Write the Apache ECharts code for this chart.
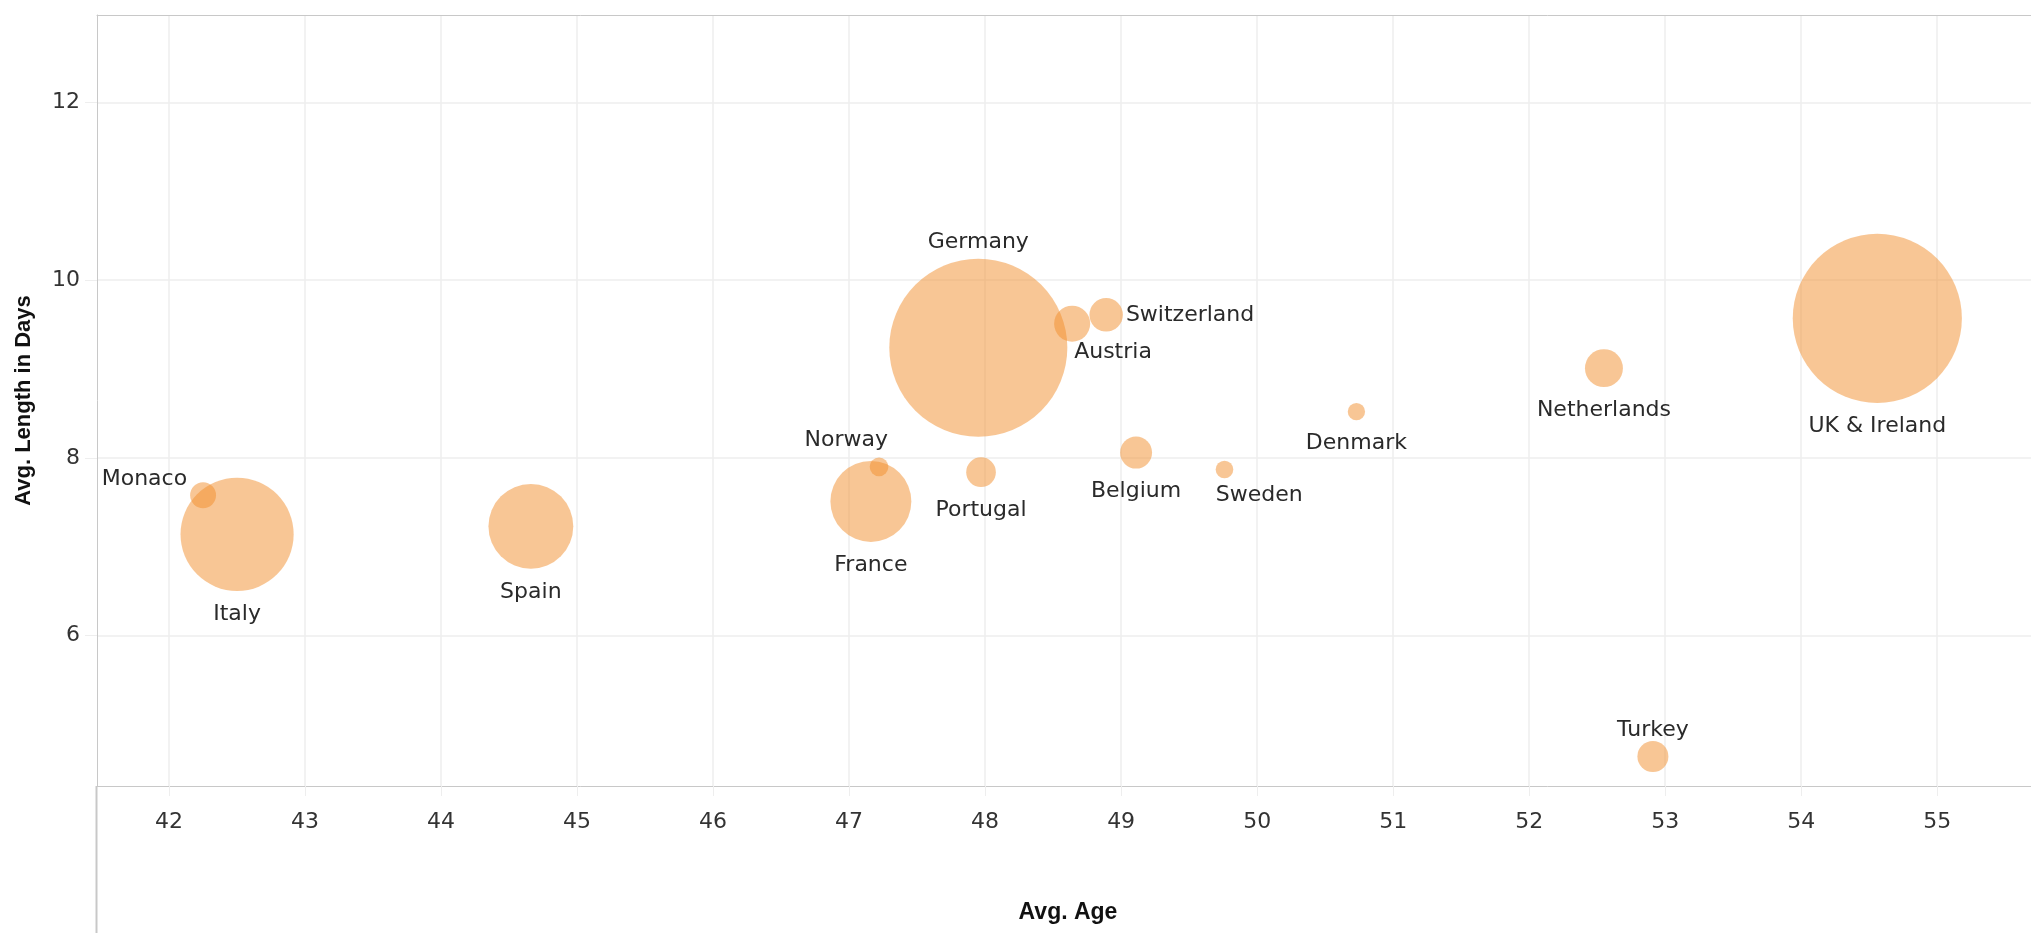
<!DOCTYPE html>
<html>
<head>
<meta charset="utf-8">
<script src="https://cdn.jsdelivr.net/npm/echarts@6/dist/echarts.min.js"></script>
<style>
html,body{margin:0;padding:0;background:#fff;}
#chart{width:2031px;height:933px;}
</style>
</head>
<body>
<div id="chart"></div>
<script>
// ---- data ----
const countries = ['Monaco','Italy','Spain','France','Norway','Germany','Portugal','Austria','Switzerland','Belgium','Sweden','Denmark','Netherlands','Turkey','UK & Ireland'];
const avgAge    = [42.25, 42.50, 44.66, 47.16, 47.22, 47.95, 47.97, 48.64, 48.89, 49.11, 49.76, 50.73, 52.55, 52.91, 54.56];
const avgDays   = [7.58, 7.14, 7.23, 7.51, 7.90, 9.24, 7.84, 9.51, 9.61, 8.06, 7.87, 8.52, 9.01, 4.64, 9.57];
const bookings  = [67, 1280, 720, 655, 35, 3170, 88, 130, 112, 102, 31, 30, 144, 96, 2860];
const xTicks = [42,43,44,45,46,47,48,49,50,51,52,53,54,55];
const yTicks = [6,8,10,12];

const sizeOf = (n) => Math.sqrt(n * 10);

// ---- label placement (style, not data); s = bubble diameter ----
const labelPlacement = {
  'Germany':     (s) => ({position:'top', distance:5}),
  'Turkey':      (s) => ({position:'top', distance:0}),
  'Switzerland': (s) => ({position:'right', distance:3}),
  'Austria':     (s) => ({position:[s/2 + 2, s], align:'left', verticalAlign:'top'}),
  'Norway':      (s) => ({position:[s/2 + 9, -6], align:'right', verticalAlign:'bottom'}),
  'Monaco':      (s) => ({position:[-3, s/2 - 16], align:'right', verticalAlign:'middle'}),
  'Sweden':      (s) => ({position:[0, s + 6], align:'left', verticalAlign:'top'})
};

const seriesData = countries.map((c,i) => {
  const item = {name:c, value:[avgAge[i], avgDays[i], bookings[i]]};
  if (labelPlacement[c]) item.label = labelPlacement[c](sizeOf(bookings[i]));
  return item;
});

const FONT = 'DejaVu Sans';
const chart = echarts.init(document.getElementById('chart'));
chart.setOption({
  animation:false,
  backgroundColor:'#fff',
  grid:{left:97, top:15, right:0, bottom:147, containLabel:false},
  xAxis:[{
    type:'value', min:41.47, max:55.69, position:'bottom',
    name:'Avg. Age', nameLocation:'middle', nameGap:115,
    nameTextStyle:{fontFamily:'Liberation Sans', fontWeight:'bold', fontSize:23, color:'#111', padding:[0,0,0,8]},
    axisLine:{show:true, lineStyle:{color:'#c8c8c8', width:1}},
    axisTick:{show:true, length:10, customValues:xTicks, lineStyle:{color:'#eeeeee'}},
    axisLabel:{customValues:xTicks, margin:25, fontFamily:FONT, fontSize:22, color:'#333'},
    splitLine:{show:true, lineStyle:{color:'#eeeeee', width:1.5}}
  },{
    type:'value', min:41.47, max:55.69, position:'top',
    axisLine:{show:true, lineStyle:{color:'#c8c8c8', width:1}},
    axisTick:{show:false}, axisLabel:{show:false}, splitLine:{show:false}
  }],
  yAxis:{
    type:'value', min:4.309, max:12.983,
    name:'Avg. Length in Days', nameLocation:'middle', nameGap:62, nameRotate:90,
    nameTextStyle:{fontFamily:'Liberation Sans', fontWeight:'bold', fontSize:22, color:'#111'},
    axisLine:{show:true, lineStyle:{color:'#c8c8c8', width:1}},
    axisTick:{show:true, length:12, customValues:yTicks, lineStyle:{color:'#eeeeee'}},
    axisLabel:{customValues:yTicks, margin:17, fontFamily:FONT, fontSize:22, color:'#333'},
    splitLine:{show:true, lineStyle:{color:'#eeeeee', width:1.5}}
  },
  graphic:[{
    type:'line', shape:{x1:96.5, y1:786, x2:96.5, y2:933},
    style:{stroke:'#c8c8c8', lineWidth:2}, silent:true
  }],
  series:[{
    type:'scatter',
    xAxisIndex:0,
    data:seriesData,
    symbolSize:(v)=>sizeOf(v[2]),
    itemStyle:{color:'rgba(242,142,43,0.5)', opacity:1},
    emphasis:{disabled:true},
    label:{
      show:true, position:'bottom', distance:12,
      formatter:(p)=>p.name,
      fontFamily:FONT, fontSize:22, color:'#2a2a2a', opacity:1
    },
    labelLayout:{hideOverlap:false}
  }]
});
</script>
</body>
</html>
